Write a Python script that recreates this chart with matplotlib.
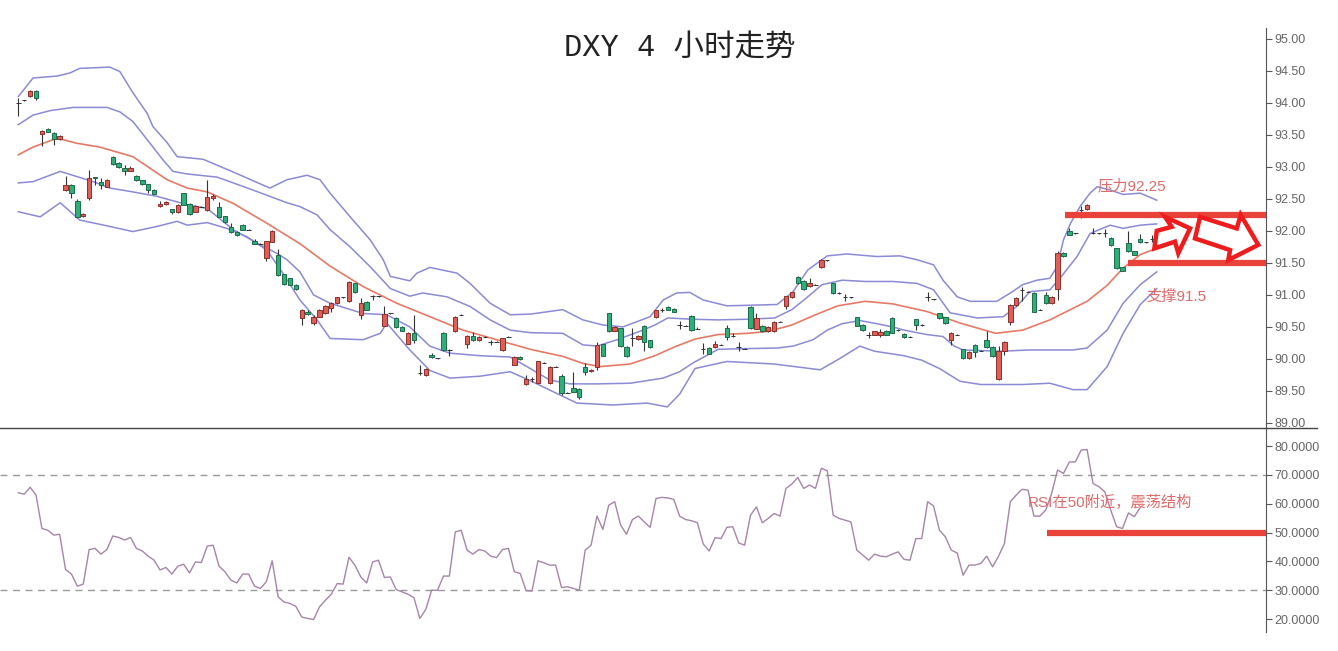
import matplotlib.pyplot as plt
import numpy as np
from matplotlib.lines import Line2D
from matplotlib.patches import Polygon

plt.rcParams['font.family'] = ['Liberation Sans', 'Noto Sans CJK SC']

# 4h candles: open, high, low, close
ohlc = [
    (94.00, 94.07, 93.79, 94.00), (94.04, 94.05, 94.03, 94.04), (94.11, 94.20, 94.10, 94.19), (94.19, 94.20, 94.05, 94.07),
    (93.52, 93.58, 93.32, 93.56), (93.59, 93.61, 93.54, 93.55), (93.53, 93.55, 93.34, 93.43), (93.43, 93.50, 93.42, 93.48),
    (92.64, 92.86, 92.62, 92.71), (92.72, 92.74, 92.52, 92.59), (92.47, 92.50, 92.20, 92.22), (92.23, 92.28, 92.22, 92.27),
    (92.51, 92.95, 92.49, 92.83), (92.84, 92.85, 92.72, 92.83), (92.77, 92.82, 92.65, 92.71), (92.69, 92.81, 92.68, 92.80),
    (93.16, 93.17, 93.03, 93.04), (93.06, 93.07, 92.99, 93.00), (92.99, 93.03, 92.88, 92.94), (92.94, 93.02, 92.93, 92.99),
    (92.86, 92.87, 92.78, 92.79), (92.79, 92.80, 92.72, 92.73), (92.73, 92.74, 92.60, 92.64), (92.64, 92.65, 92.57, 92.58),
    (92.39, 92.47, 92.38, 92.42), (92.42, 92.46, 92.41, 92.45), (92.34, 92.35, 92.27, 92.30), (92.29, 92.42, 92.28, 92.41),
    (92.59, 92.60, 92.40, 92.41), (92.42, 92.43, 92.25, 92.26), (92.30, 92.40, 92.29, 92.39), (92.38, 92.39, 92.37, 92.38),
    (92.32, 92.80, 92.31, 92.53), (92.51, 92.58, 92.48, 92.55), (92.38, 92.45, 92.21, 92.22), (92.23, 92.24, 92.13, 92.14),
    (92.06, 92.12, 91.96, 91.99), (91.99, 92.00, 91.92, 91.93), (92.10, 92.11, 92.01, 92.02), (92.02, 92.03, 92.01, 92.02),
    (91.84, 91.88, 91.79, 91.80), (91.80, 91.81, 91.79, 91.80), (91.58, 91.85, 91.53, 91.84), (91.83, 92.01, 91.82, 92.00),
    (91.63, 91.71, 91.30, 91.31), (91.32, 91.33, 91.16, 91.17), (91.26, 91.27, 91.15, 91.16), (91.16, 91.17, 91.08, 91.09),
    (90.64, 90.78, 90.53, 90.76), (90.74, 90.77, 90.68, 90.70), (90.56, 90.68, 90.53, 90.66), (90.66, 90.78, 90.65, 90.77),
    (90.71, 90.84, 90.70, 90.83), (90.79, 90.89, 90.73, 90.88), (90.87, 90.97, 90.86, 90.96), (90.96, 90.97, 90.95, 90.96),
    (90.90, 91.21, 90.89, 91.20), (91.18, 91.19, 91.03, 91.04), (90.69, 90.95, 90.63, 90.88), (90.89, 90.90, 90.76, 90.77),
    (90.98, 91.00, 90.92, 90.98), (90.98, 90.99, 90.97, 90.98), (90.52, 90.83, 90.51, 90.70), (90.71, 90.72, 90.70, 90.71),
    (90.64, 90.66, 90.48, 90.50), (90.50, 90.51, 90.43, 90.44), (90.24, 90.42, 90.23, 90.41), (90.40, 90.69, 90.25, 90.30),
    (89.78, 89.90, 89.75, 89.78), (89.75, 89.86, 89.74, 89.85), (90.06, 90.10, 90.02, 90.03), (90.01, 90.02, 90.00, 90.01),
    (90.41, 90.42, 90.13, 90.14), (90.14, 90.15, 90.05, 90.14), (90.43, 90.67, 90.42, 90.66), (90.69, 90.70, 90.68, 90.69),
    (90.24, 90.37, 90.17, 90.36), (90.36, 90.42, 90.28, 90.29), (90.29, 90.36, 90.28, 90.35), (90.35, 90.36, 90.34, 90.35),
    (90.27, 90.30, 90.22, 90.27), (90.27, 90.28, 90.26, 90.27), (90.14, 90.33, 90.13, 90.32), (90.35, 90.36, 90.34, 90.35),
    (89.91, 90.04, 89.90, 90.03), (90.03, 90.04, 89.99, 90.00), (89.61, 89.75, 89.60, 89.68), (89.68, 89.72, 89.64, 89.68),
    (89.63, 89.97, 89.62, 89.96), (89.94, 89.95, 89.93, 89.94), (89.62, 89.89, 89.61, 89.88), (89.88, 89.89, 89.87, 89.88),
    (89.73, 89.76, 89.44, 89.47), (89.47, 89.48, 89.46, 89.47), (89.55, 89.79, 89.48, 89.49), (89.53, 89.54, 89.38, 89.41),
    (89.88, 89.93, 89.75, 89.79), (89.81, 89.84, 89.80, 89.83), (89.87, 90.26, 89.83, 90.22), (90.23, 90.24, 90.04, 90.05),
    (90.71, 90.72, 90.42, 90.43), (90.44, 90.51, 90.43, 90.50), (90.48, 90.49, 90.19, 90.20), (90.19, 90.20, 90.03, 90.04),
    (90.32, 90.48, 90.20, 90.32), (90.31, 90.37, 90.30, 90.36), (90.52, 90.53, 90.13, 90.26), (90.29, 90.30, 90.17, 90.18),
    (90.65, 90.77, 90.64, 90.76), (90.76, 90.79, 90.73, 90.76), (90.81, 90.82, 90.76, 90.77), (90.78, 90.79, 90.73, 90.74),
    (90.53, 90.60, 90.47, 90.53), (90.52, 90.53, 90.51, 90.52), (90.67, 90.68, 90.44, 90.45), (90.47, 90.50, 90.46, 90.47),
    (90.16, 90.25, 90.07, 90.16), (90.17, 90.18, 90.07, 90.08), (90.18, 90.28, 90.17, 90.23), (90.22, 90.23, 90.21, 90.22),
    (90.48, 90.53, 90.30, 90.34), (90.36, 90.40, 90.35, 90.36), (90.18, 90.27, 90.12, 90.18), (90.16, 90.17, 90.15, 90.16),
    (90.81, 90.82, 90.47, 90.48), (90.47, 90.72, 90.46, 90.64), (90.52, 90.53, 90.42, 90.43), (90.43, 90.51, 90.42, 90.50),
    (90.43, 90.59, 90.42, 90.58), (90.58, 90.59, 90.57, 90.58), (90.83, 90.99, 90.78, 90.98), (90.96, 91.05, 90.95, 91.04),
    (91.28, 91.29, 91.17, 91.18), (91.22, 91.23, 91.08, 91.09), (91.14, 91.27, 91.13, 91.18), (91.16, 91.17, 91.15, 91.16),
    (91.43, 91.56, 91.42, 91.55), (91.54, 91.55, 91.53, 91.54), (91.18, 91.19, 91.02, 91.03), (91.03, 91.04, 91.02, 91.03),
    (90.96, 91.02, 90.90, 90.96), (90.96, 90.97, 90.95, 90.96), (90.65, 90.66, 90.51, 90.52), (90.53, 90.54, 90.44, 90.45),
    (90.38, 90.42, 90.33, 90.38), (90.38, 90.44, 90.37, 90.43), (90.37, 90.46, 90.34, 90.42), (90.44, 90.45, 90.37, 90.38),
    (90.64, 90.65, 90.40, 90.41), (90.45, 90.46, 90.44, 90.45), (90.39, 90.40, 90.33, 90.34), (90.35, 90.36, 90.34, 90.35),
    (90.62, 90.63, 90.45, 90.53), (90.53, 90.54, 90.52, 90.53), (90.96, 91.05, 90.90, 90.96), (90.93, 90.94, 90.92, 90.93),
    (90.71, 90.72, 90.63, 90.64), (90.65, 90.66, 90.55, 90.56), (90.29, 90.42, 90.22, 90.41), (90.38, 90.39, 90.37, 90.38),
    (90.15, 90.16, 90.00, 90.01), (90.01, 90.12, 90.00, 90.11), (90.22, 90.23, 90.03, 90.11), (90.13, 90.14, 90.12, 90.13),
    (90.30, 90.44, 90.17, 90.18), (90.19, 90.20, 90.03, 90.04), (89.68, 90.20, 89.67, 90.13), (90.13, 90.28, 90.06, 90.27),
    (90.58, 90.86, 90.53, 90.84), (90.84, 90.96, 90.83, 90.95), (91.08, 91.12, 90.90, 91.08), (91.05, 91.06, 91.04, 91.05),
    (91.03, 91.04, 90.73, 90.74), (90.77, 90.78, 90.76, 90.77), (91.00, 91.05, 90.86, 90.87), (90.87, 90.98, 90.86, 90.97),
    (91.10, 91.68, 90.92, 91.65), (91.66, 91.67, 91.60, 91.61), (92.00, 92.05, 91.93, 91.94), (91.96, 91.97, 91.95, 91.96),
    (92.33, 92.39, 92.20, 92.33), (92.34, 92.42, 92.33, 92.41), (91.97, 92.05, 91.95, 91.97), (91.96, 91.97, 91.95, 91.96),
    (91.97, 92.03, 91.90, 91.97), (91.89, 91.90, 91.77, 91.78), (91.73, 91.74, 91.41, 91.42), (91.43, 91.44, 91.37, 91.38),
    (91.81, 92.00, 91.67, 91.68), (91.68, 91.69, 91.62, 91.63), (91.87, 91.95, 91.81, 91.82), (91.82, 91.83, 91.81, 91.82),
    (91.87, 91.93, 91.82, 91.87),
]

# bollinger style bands, read at these bar positions
u2_pos = [0, 2.5, 6.6, 8.8, 10.4, 15.5, 17.2, 19.4, 21.8, 22.8, 25.2, 26.9, 31.3, 36.4, 42.6, 45.5, 48.9, 51.1, 52.8, 56.2,
          59.6, 61.8, 63, 66.3, 67.5, 69.7, 74.3, 76.5, 79.9, 83.3, 86.7, 92.2, 95.6, 99, 102.4, 107, 109.2, 111.5, 113.7, 116,
          120, 124.4, 128.5, 131.2, 133.7, 137, 140.3, 145.4, 149.3, 152.2, 155, 156.6, 159, 161.2, 165.7, 168, 170.1, 172.5,
          174.7, 175.9, 177, 178.2, 179.8, 181.5, 182.7, 184.9, 187.1, 190, 192.8]
u2_val = [94.10, 94.39, 94.42, 94.47, 94.54, 94.56, 94.49, 94.16, 93.84, 93.63, 93.38, 93.16, 93.12, 92.92, 92.67, 92.80,
          92.87, 92.80, 92.59, 92.22, 91.86, 91.55, 91.29, 91.22, 91.34, 91.43, 91.34, 91.18, 90.87, 90.69, 90.70, 90.77,
          90.61, 90.53, 90.50, 90.66, 90.92, 91.03, 91.04, 90.92, 90.83, 90.84, 90.85, 91.05, 91.39, 91.61, 91.64, 91.60,
          91.61, 91.55, 91.47, 91.23, 90.97, 90.90, 90.90, 91.03, 91.16, 91.23, 91.26, 91.44, 91.86, 92.12, 92.38, 92.59,
          92.69, 92.64, 92.57, 92.59, 92.48]

u1_pos = [0, 2.5, 5.4, 9.3, 15, 17.2, 19.4, 22.3, 24.5, 26.2, 28.6, 33.7, 39.7, 45.5, 47.7, 50.6, 52.8, 56.2, 59.6, 63,
          66.3, 68.5, 72.6, 76.5, 79.9, 83.3, 86.7, 92.2, 95.6, 98, 101.4, 105.8, 107.8, 110, 114.1, 118.5, 123.6, 128.1,
          131, 133.7, 136.1, 139.5, 143.4, 148.1, 152.2, 155, 157.8, 162.4, 166.8, 169.1, 171.3, 174.7, 176.4, 179.3,
          181.5, 184.9, 187.1, 190, 192.8]
u1_val = [93.66, 93.81, 93.88, 93.93, 93.93, 93.86, 93.71, 93.37, 93.11, 92.93, 92.89, 92.84, 92.64, 92.44, 92.38, 92.25,
          92.02, 91.75, 91.44, 91.10, 90.98, 91.03, 90.97, 90.82, 90.61, 90.45, 90.41, 90.40, 90.22, 90.20, 90.30, 90.45,
          90.53, 90.64, 90.62, 90.61, 90.62, 90.64, 90.77, 90.97, 91.16, 91.23, 91.21, 91.21, 91.18, 91.08, 90.72, 90.64,
          90.66, 90.82, 91.05, 91.08, 91.26, 91.60, 91.96, 92.09, 92.04, 92.09, 92.11]

mid_pos = [0, 2.5, 6.6, 9.9, 13.8, 19.4, 25.2, 28.6, 32, 36.4, 42.1, 47.7, 52.8, 58.4, 64.1, 69.7, 75.3, 81, 86.7, 92.2,
           95.6, 98.5, 103.6, 107.8, 111.2, 114.6, 118.5, 123.6, 127, 131, 135, 138.8, 143.4, 148.1, 153.9, 159.5, 165.5,
           170.1, 174.7, 181, 184.4, 187.1, 190, 192.8]
mid_val = [93.19, 93.31, 93.45, 93.37, 93.31, 93.16, 92.80, 92.67, 92.61, 92.43, 92.12, 91.80, 91.45, 91.13, 90.87, 90.66,
           90.45, 90.30, 90.15, 90.04, 89.93, 89.88, 89.92, 90.05, 90.19, 90.31, 90.38, 90.40, 90.43, 90.53, 90.69, 90.83,
           90.90, 90.86, 90.74, 90.56, 90.40, 90.45, 90.61, 90.90, 91.15, 91.42, 91.63, 91.73]

l1_pos = [0, 2.5, 7.1, 9.9, 12.7, 15.5, 19.4, 23.5, 28.6, 32, 36.4, 40.4, 43.8, 45.5, 47.7, 50, 52.8, 58.4, 62.4, 66.3,
          69.7, 73.1, 78.2, 83.3, 86.7, 90, 93.4, 98, 103.6, 109.2, 112, 114.3, 118.5, 122.7, 128.5, 131.2, 134.6, 137,
          139.5, 142.5, 145.4, 148.1, 150, 153.9, 156.6, 158.5, 160, 166.3, 171.3, 174.7, 178.6, 181, 184.4, 187.1, 190,
          192.8]
l1_val = [92.75, 92.77, 92.93, 92.85, 92.77, 92.67, 92.61, 92.54, 92.41, 92.35, 92.02, 91.81, 91.65, 91.55, 91.36, 91.00,
          90.87, 90.71, 90.69, 90.50, 90.20, 90.09, 90.05, 90.03, 89.85, 89.67, 89.61, 89.61, 89.62, 89.70, 89.80, 89.94,
          90.15, 90.16, 90.17, 90.20, 90.30, 90.45, 90.55, 90.60, 90.55, 90.50, 90.45, 90.38, 90.35, 90.20, 90.14, 90.12,
          90.14, 90.14, 90.14, 90.17, 90.45, 90.87, 91.16, 91.36]

l2_pos = [0, 3.7, 7.1, 10.4, 15.5, 19.4, 23.5, 26.9, 28.6, 32, 35.3, 38.7, 42.1, 44.8, 47.7, 50.6, 52.8, 58.4, 61.3, 62.4,
          66.3, 69.7, 73.1, 78.2, 83.3, 86.7, 91.2, 94.6, 100.7, 106.5, 109.9, 112, 114.6, 120, 128, 135.8, 139, 142.5, 145,
          150, 153, 156, 159.5, 163, 170, 174.7, 178.6, 181, 184.4, 187.1, 190, 192.8]
l2_val = [92.30, 92.22, 92.44, 92.17, 92.07, 91.99, 92.07, 92.15, 92.09, 92.13, 92.04, 91.91, 91.70, 91.34, 90.92, 90.61,
          90.32, 90.30, 90.40, 90.56, 90.14, 89.82, 89.70, 89.73, 89.80, 89.66, 89.46, 89.31, 89.28, 89.31, 89.25, 89.45,
          89.85, 89.96, 89.92, 89.83, 90.00, 90.20, 90.12, 90.05, 89.98, 89.85, 89.65, 89.60, 89.60, 89.62, 89.52, 89.52,
          89.88, 90.40, 90.85, 91.10]

# RSI, one value per bar
rsi = [63.8, 63.3, 65.7, 63.0, 51.4, 50.8, 49.1, 49.4, 37.2, 35.6, 31.4, 32.1, 44.1, 44.5, 42.5, 44.1, 48.8, 48.3, 47.4,
       48.3, 44.5, 43.6, 41.8, 40.4, 37.0, 37.9, 35.6, 38.3, 39.0, 36.0, 39.8, 39.6, 45.3, 45.6, 38.3, 36.4, 33.5, 32.5,
       35.6, 35.6, 31.4, 30.6, 32.9, 40.2, 27.7, 25.9, 25.4, 24.4, 20.7, 20.2, 19.8, 24.2, 26.5, 28.6, 32.3, 32.1, 41.4,
       38.7, 34.6, 32.5, 39.8, 40.4, 34.4, 34.6, 30.2, 29.4, 28.6, 27.4, 20.2, 23.3, 30.0, 30.0, 34.9, 34.9, 50.2, 50.8,
       43.9, 42.5, 44.1, 43.6, 41.8, 41.3, 44.1, 44.5, 36.4, 35.8, 29.8, 29.7, 40.2, 39.5, 38.7, 38.7, 30.9, 31.2, 30.6,
       30.0, 43.9, 45.6, 55.7, 51.1, 59.5, 60.7, 52.6, 49.4, 54.5, 55.7, 53.7, 51.8, 61.8, 62.2, 62.0, 61.5, 55.7, 54.5,
       54.1, 53.4, 46.0, 43.6, 48.2, 47.9, 51.8, 52.0, 46.4, 45.6, 56.0, 58.9, 53.4, 54.9, 56.6, 55.7, 65.3, 66.8, 69.1,
       65.3, 66.5, 65.3, 72.3, 71.4, 56.0, 54.9, 54.3, 53.7, 43.9, 42.2, 40.4, 42.5, 41.8, 41.6, 42.5, 43.3, 40.7, 40.4,
       47.9, 47.9, 60.7, 59.2, 50.8, 48.5, 43.9, 42.9, 35.2, 38.7, 38.7, 39.3, 41.8, 38.1, 41.8, 46.2, 60.7, 63.0, 65.0,
       64.7, 55.7, 55.7, 57.8, 63.6, 71.7, 70.5, 74.5, 74.5, 78.6, 78.8, 67.0, 65.9, 64.1, 57.8, 52.0, 51.4, 56.8, 55.5,
       58.7]

price_ticks = np.arange(89.0, 95.01, 0.5)
rsi_ticks = np.arange(20, 81, 10)
resistance = 92.25
support = 91.5
rsi_mid = 50

RED = '#df5f57'
GREEN = '#2fae78'
ANNO = '#e8423b'
TXT = '#e06a6a'

fig = plt.figure(figsize=(13.38, 6.51), dpi=100)
ax = fig.add_axes([0, 0.3425, 0.9462, 0.6144])
ax2 = fig.add_axes([0, 0.0292, 0.9462, 0.3133])

xmin, xmax = -3.1, 211.3

# candles
arr = np.array(ohlc)
o, h, l, c = arr.T
x = np.arange(len(arr))
face = np.where(c > o, RED, np.where(c < o, GREEN, '#333333'))
edge = np.where(c > o, '#8e2f2a', np.where(c < o, '#1c6b4a', '#333333'))
ax.vlines(x, l, h, color='#333333', lw=0.8, zorder=3)
ax.bar(x, np.abs(c - o), bottom=np.minimum(o, c), width=0.75, color=face,
       edgecolor=edge, linewidth=0.7, zorder=4)

band_col = '#8a8ad6'
for pos, val in [(u2_pos, u2_val), (u1_pos, u1_val), (l1_pos, l1_val), (l2_pos, l2_val)]:
    ax.plot(pos, val, color=band_col, lw=1.1, zorder=2)
ax.plot(mid_pos, mid_val, color='#e67a66', lw=1.2, zorder=2)

# support / resistance
ax.hlines(resistance, 177.3, xmax, color=ANNO, lw=4.5, zorder=5)
ax.hlines(support, 187.9, xmax, color=ANNO, lw=4.5, zorder=5)
ax.text(182.7, 92.70, f'压力{resistance}', color=TXT, fontsize=11, va='center', ha='left', zorder=6)
ax.text(191.1, 90.98, f'支撑{support}', color=TXT, fontsize=11, va='center', ha='left', zorder=6)

arrow1 = [(0.9118, 0.449), (0.9137, 0.493), (0.9255, 0.503), (0.9202, 0.528),
          (0.940, 0.499), (0.9307, 0.437), (0.9281, 0.466)]
arrow2 = [(0.9439, 0.474), (0.9479, 0.528), (0.9769, 0.499), (0.980, 0.533),
          (0.9939, 0.458), (0.9702, 0.42), (0.9716, 0.445)]
for pts in (arrow1, arrow2):
    ax.add_patch(Polygon(pts, closed=True, transform=ax.transAxes, facecolor='white',
                         edgecolor='#ee1c1c', lw=3.2, joinstyle='miter', zorder=7))

ax.set_xlim(xmin, xmax)
ax.set_ylim(88.92, 95.17)
ax.yaxis.tick_right()
ax.set_yticks(price_ticks)
ax.set_yticklabels([f'{t:.2f}' for t in price_ticks])

# RSI panel
ax2.plot(np.arange(len(rsi)), rsi, color='#a585a8', lw=1.0, zorder=2)
ax2.axhline(70, color='#9a9a9a', lw=1.0, ls=(0, (5, 4)), zorder=1)
ax2.axhline(30, color='#9a9a9a', lw=1.0, ls=(0, (5, 4)), zorder=1)
ax2.hlines(rsi_mid, 174.2, xmax, color=ANNO, lw=4.5, zorder=5)
ax2.text(171.0, 60.6, f'RSI在{rsi_mid}附近，震荡结构', color=TXT, fontsize=11, va='center', ha='left', zorder=6)
ax2.set_xlim(xmin, xmax)
ax2.set_ylim(15.5, 86.25)
ax2.yaxis.tick_right()
ax2.set_yticks(rsi_ticks)
ax2.set_yticklabels([f'{t:.4f}' for t in rsi_ticks])

for a in (ax, ax2):
    a.set_facecolor('none')
    a.set_xticks([])
    for s in ('left', 'top', 'bottom'):
        a.spines[s].set_visible(False)
    a.spines['right'].set_color('#555555')
    a.tick_params(axis='y', direction='out', length=4, width=0.8, color='#555555',
                  labelsize=9, labelcolor='#666666', pad=2)

# panel separator
fig.add_artist(Line2D([0, 1317 / 1338], [223 / 651, 223 / 651], color='#444444', lw=1.0))

fig.text(0.508, 0.926, 'DXY 4 小时走势', ha='center', va='center', fontsize=22,
         family=['Liberation Mono', 'Noto Sans CJK SC'], color='#222222')

fig.savefig('out.png', dpi=100)
